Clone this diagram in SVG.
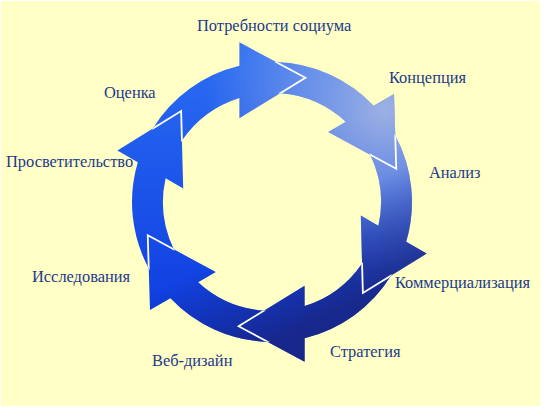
<svg xmlns="http://www.w3.org/2000/svg" width="544" height="409" viewBox="0 0 544 409">
<style>
.lbl{font-family:"Liberation Serif","Times New Roman",serif;font-size:16.4px;fill:#1C3A8C}
.edge{fill:none;stroke:#ffffff;stroke-width:1.8;stroke-linejoin:miter}
</style>
<defs>
<linearGradient id="base" gradientUnits="userSpaceOnUse" x1="0" y1="60" x2="0" y2="350">
<stop offset="0" stop-color="#2A6CF2"/>
<stop offset="1" stop-color="#0A36DE"/>
</linearGradient>
<radialGradient id="hl" gradientUnits="userSpaceOnUse" cx="385" cy="110" r="180">
<stop offset="0" stop-color="#ECE4DC" stop-opacity="0.6"/>
<stop offset="1" stop-color="#ECE4DC" stop-opacity="0"/>
</radialGradient>
<linearGradient id="sh" gradientUnits="userSpaceOnUse" x1="147.6" y1="295.2" x2="192.3" y2="384.6">
<stop offset="0" stop-color="#1C2068" stop-opacity="0"/>
<stop offset="1" stop-color="#1C2068" stop-opacity="0.7"/>
</linearGradient>
<path id="body" d="M143.13,147.30 A140,140 0 0 1 245.29,64.58 L251.2,95.0 A109,109 0 0 0 171.67,159.41 Z"/>
<polygon id="head" points="239.4,42.3 305.4,77.8 239.4,118.3"/>
<polyline id="edge" class="edge" points="239.4,42.3 305.4,77.8 239.4,118.3"/>
<clipPath id="ringClip">
<use href="#body"/>
<use href="#body" transform="rotate(60 272 202)"/>
<use href="#body" transform="rotate(120 272 202)"/>
<use href="#body" transform="rotate(180 272 202)"/>
<use href="#body" transform="rotate(240 272 202)"/>
<use href="#body" transform="rotate(300 272 202)"/>
<use href="#head"/>
<use href="#head" transform="rotate(60 272 202)"/>
<use href="#head" transform="rotate(120 272 202)"/>
<use href="#head" transform="rotate(180 272 202)"/>
<use href="#head" transform="rotate(240 272 202)"/>
<use href="#head" transform="rotate(300 272 202)"/>
</clipPath>
<clipPath id="annulus">
<path clip-rule="evenodd" d="M132,202 A140,140 0 1 1 412,202 A140,140 0 1 1 132,202 Z M163,202 A109,109 0 1 1 381,202 A109,109 0 1 1 163,202 Z"/>
</clipPath>
</defs>
<rect width="544" height="409" fill="#ffffff"/>
<rect x="1" y="1" width="539" height="405" fill="#FFFFC6"/>
<g id="connectors">
<g clip-path="url(#ringClip)">
<rect x="100" y="30" width="350" height="350" fill="url(#base)"/>
<rect x="100" y="30" width="350" height="350" fill="url(#hl)"/>
<rect x="100" y="30" width="350" height="350" fill="url(#sh)"/>
</g>
<g clip-path="url(#annulus)">
<use href="#edge"/>
<use href="#edge" transform="rotate(60 272 202)"/>
<use href="#edge" transform="rotate(120 272 202)"/>
<use href="#edge" transform="rotate(180 272 202)"/>
<use href="#edge" transform="rotate(240 272 202)"/>
<use href="#edge" transform="rotate(300 272 202)"/>
</g>
</g>
<g id="node-potrebnosti"><text class="lbl" x="197" y="31">Потребности социума</text></g>
<g id="node-koncepciya"><text class="lbl" x="389" y="83">Концепция</text></g>
<g id="node-analiz"><text class="lbl" x="429" y="178">Анализ</text></g>
<g id="node-kommercializaciya"><text class="lbl" x="395" y="288">Коммерциализация</text></g>
<g id="node-strategiya"><text class="lbl" x="330" y="357">Стратегия</text></g>
<g id="node-vebdizain"><text class="lbl" x="152" y="366">Веб-дизайн</text></g>
<g id="node-issledovaniya"><text class="lbl" x="32" y="282">Исследования</text></g>
<g id="node-prosvetitelstvo"><text class="lbl" x="6" y="167">Просветительство</text></g>
<g id="node-ocenka"><text class="lbl" x="104" y="98">Оценка</text></g>
</svg>
